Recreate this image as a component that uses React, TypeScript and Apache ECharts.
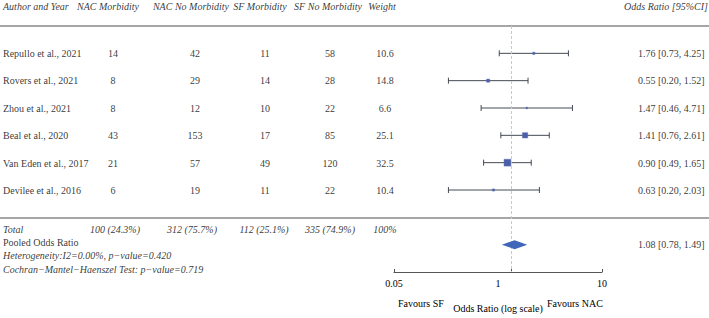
import React, { useEffect, useRef } from "react";
import * as echarts from "echarts";

// ---------- data ----------
const authors = [
  "Repullo et al., 2021",
  "Rovers et al., 2021",
  "Zhou et al., 2021",
  "Beal et al., 2020",
  "Van Eden et al., 2017",
  "Devilee et al., 2016",
];
const nacMorbidity = [14, 8, 8, 43, 21, 6];
const nacNoMorbidity = [42, 29, 12, 153, 57, 19];
const sfMorbidity = [11, 14, 10, 17, 49, 11];
const sfNoMorbidity = [58, 28, 22, 85, 120, 22];
const weights = [10.6, 14.8, 6.6, 25.1, 32.5, 10.4];
const oddsRatio = [1.76, 0.55, 1.47, 1.41, 0.9, 0.63];
const ciLow = [0.73, 0.2, 0.46, 0.76, 0.49, 0.2];
const ciHigh = [4.25, 1.52, 4.71, 2.61, 1.65, 2.03];

const pooledOR = 1.08;
const pooledLow = 0.78;
const pooledHigh = 1.49;

const headers = [
  "Author and Year",
  "NAC Morbidity",
  "NAC No Morbidity",
  "SF Morbidity",
  "SF No Morbidity",
  "Weight",
  "Odds Ratio [95%CI]",
];
const totals = ["Total", "100 (24.3%)", "312 (75.7%)", "112 (25.1%)", "335 (74.9%)", "100%"];
const pooledLabel = "Pooled Odds Ratio";
const heterogeneityText = "Heterogeneity:I2=0.00%, p\u2212value=0.420";
const cmhText = "Cochran\u2212Mantel\u2212Haenszel Test: p\u2212value=0.719";

const xTickValues = [0.05, 1, 10];
const xTickLabels = ["0.05", "1", "10"];
const xAxisName = "Odds Ratio (log scale)";
const favourLeft = "Favours SF";
const favourRight = "Favours NAC";

// ---------- layout ----------
const FONT = "Liberation Serif";
const TEXT_COLOR = "#000";
const COL_CENTER = [113, 195, 265, 330, 385];
const HEADER_CENTER = [108, 191, 260, 328, 382];
const TOTAL_CENTER = [115, 192, 264, 330, 385];
const LEFT_X = 3;
const OR_TEXT_X = 638;
const RIGHT_X = 708;
const HEADER_ROW = -0.7;
const TOTAL_ROW = 7.4;
const POOLED_ROW = 7.95;
const HET_ROW = 8.36;
const CMH_ROW = 8.87;

type Align = "left" | "center" | "right";

function textItem(x: number, y: number, text: string, align: Align, italic = false) {
  const position = align === "left" ? "right" : align === "right" ? "left" : "inside";
  return {
    value: [x, y, text],
    label: {
      show: true,
      position,
      distance: 0,
      formatter: text,
      fontFamily: FONT,
      fontSize: 10,
      fontStyle: italic ? "italic" : "normal",
      color: TEXT_COLOR,
    },
  };
}

function buildTableItems() {
  const items: any[] = [];
  items.push(textItem(LEFT_X, HEADER_ROW, headers[0], "left", true));
  for (let c = 0; c < 5; c++) {
    items.push(textItem(HEADER_CENTER[c], HEADER_ROW, headers[c + 1], "center", true));
  }
  items.push(textItem(RIGHT_X, HEADER_ROW, headers[6], "right", true));

  authors.forEach((a, i) => {
    const row = i + 1;
    items.push(textItem(LEFT_X, row, a, "left"));
    const vals = [nacMorbidity[i], nacNoMorbidity[i], sfMorbidity[i], sfNoMorbidity[i], weights[i].toFixed(1)];
    vals.forEach((v, c) => items.push(textItem(COL_CENTER[c], row, String(v), "center")));
    items.push(
      textItem(
        OR_TEXT_X,
        row,
        `${oddsRatio[i].toFixed(2)} [${ciLow[i].toFixed(2)}, ${ciHigh[i].toFixed(2)}]`,
        "left"
      )
    );
  });

  items.push(textItem(LEFT_X, TOTAL_ROW, totals[0], "left", true));
  for (let c = 1; c < totals.length; c++) {
    items.push(textItem(TOTAL_CENTER[c - 1], TOTAL_ROW, totals[c], "center", true));
  }
  items.push(textItem(LEFT_X, POOLED_ROW - 0.05, pooledLabel, "left"));
  items.push(
    textItem(
      OR_TEXT_X,
      POOLED_ROW,
      `${pooledOR.toFixed(2)} [${pooledLow.toFixed(2)}, ${pooledHigh.toFixed(2)}]`,
      "left"
    )
  );
  items.push(textItem(LEFT_X, HET_ROW, heterogeneityText, "left", true));
  items.push(textItem(LEFT_X, CMH_ROW, cmhText, "left", true));
  return items;
}

export default function App() {
  const ref = useRef<HTMLDivElement>(null);

  useEffect(() => {
    if (!ref.current) return;
    const chart = echarts.init(ref.current, undefined, { renderer: "svg" });
    const xMin = Math.log10(xTickValues[0]);
    const xMax = Math.log10(xTickValues[xTickValues.length - 1]);
    const tickLogs = xTickValues.map((v) => Math.log10(v));
    // labels are spread evenly along the axis, as in the reference
    const labelPos = xTickLabels.map((_, i) => xMin + ((xMax - xMin) * i) / (xTickLabels.length - 1));

    const ciData = authors.map((_, i) => [
      Math.log10(ciLow[i]),
      Math.log10(ciHigh[i]),
      Math.log10(oddsRatio[i]),
      i + 1,
      weights[i],
    ]);

    chart.setOption({
      animation: false,
      textStyle: { fontFamily: FONT },
      grid: [
        { left: 394, right: 107, top: 26, bottom: 45 },
        { left: 0, right: 0, top: 26, bottom: 45 },
      ],
      xAxis: [
        {
          type: "value",
          gridIndex: 0,
          min: xMin,
          max: xMax,
          position: "bottom",
          splitLine: { show: false },
          axisLine: { show: true, onZero: false, lineStyle: { color: "#555", width: 1 } },
          axisTick: {
            show: true,
            inside: true,
            length: 3,
            customValues: tickLogs,
            lineStyle: { color: "#555" },
          },
          axisLabel: {
            customValues: labelPos,
            margin: 6,
            fontFamily: FONT,
            fontSize: 10,
            color: TEXT_COLOR,
            formatter: (v: number) => {
              let best = 0;
              labelPos.forEach((p, i) => {
                if (Math.abs(p - v) < Math.abs(labelPos[best] - v)) best = i;
              });
              return xTickLabels[best];
            },
          },
          name: xAxisName,
          nameLocation: "middle",
          nameGap: 31,
          nameTextStyle: { fontFamily: FONT, fontSize: 10, color: TEXT_COLOR },
        },
        { type: "value", gridIndex: 1, min: 0, max: 709, show: false },
      ],
      yAxis: [
        { type: "value", gridIndex: 0, min: 0, max: 9, inverse: true, show: false },
        { type: "value", gridIndex: 1, min: 0, max: 9, inverse: true, show: false },
      ],
      graphic: [
        {
          type: "text",
          left: 398,
          top: 298,
          style: { text: favourLeft, fontFamily: FONT, fontSize: 10, fill: TEXT_COLOR },
        },
        {
          type: "text",
          left: 547,
          top: 298,
          style: { text: favourRight, fontFamily: FONT, fontSize: 10, fill: TEXT_COLOR },
        },
      ],
      series: [
        {
          type: "scatter",
          xAxisIndex: 1,
          yAxisIndex: 1,
          symbolSize: 0,
          clip: false,
          silent: true,
          data: buildTableItems(),
          markLine: {
            silent: true,
            symbol: "none",
            label: { show: false },
            lineStyle: { color: "#888", width: 1.5, type: "solid" },
            data: [{ yAxis: 0 }, { yAxis: 7 }],
          },
        },
        {
          type: "custom",
          xAxisIndex: 0,
          yAxisIndex: 0,
          silent: true,
          data: ciData,
          encode: { x: [0, 1, 2], y: 3 },
          renderItem: (params: any, api: any) => {
            const y = api.value(3);
            const pLo = api.coord([api.value(0), y]);
            const pHi = api.coord([api.value(1), y]);
            const pEst = api.coord([api.value(2), y]);
            const s = Math.max(1.6, api.value(4) * 0.21);
            const stroke = { stroke: "#454a55", lineWidth: 1 };
            return {
              type: "group",
              children: [
                { type: "line", shape: { x1: pLo[0], y1: pLo[1], x2: pHi[0], y2: pHi[1] }, style: stroke },
                { type: "line", shape: { x1: pLo[0], y1: pLo[1] - 3, x2: pLo[0], y2: pLo[1] + 3 }, style: stroke },
                { type: "line", shape: { x1: pHi[0], y1: pHi[1] - 3, x2: pHi[0], y2: pHi[1] + 3 }, style: stroke },
                {
                  type: "rect",
                  shape: { x: pEst[0] - s / 2, y: pEst[1] - s / 2, width: s, height: s },
                  style: { fill: "#4a5fa8", stroke: "#5a6fb8", lineWidth: 0.5 },
                },
              ],
            };
          },
          markLine: {
            silent: true,
            symbol: "none",
            label: { show: false },
            lineStyle: { color: "#c8c8c8", width: 1, type: [3, 2] },
            data: [{ xAxis: 0 }],
          },
        },
        {
          type: "custom",
          xAxisIndex: 0,
          yAxisIndex: 0,
          z: 10,
          silent: true,
          data: [[Math.log10(pooledLow), Math.log10(pooledHigh), Math.log10(pooledOR), 8]],
          encode: { x: [0, 1, 2], y: 3 },
          renderItem: (params: any, api: any) => {
            const y = api.value(3);
            const pLo = api.coord([api.value(0), y]);
            const pHi = api.coord([api.value(1), y]);
            const pEst = api.coord([api.value(2), y]);
            const h = 4.5;
            return {
              type: "polygon",
              shape: {
                points: [
                  [pLo[0], pLo[1]],
                  [pEst[0], pEst[1] - h],
                  [pHi[0], pHi[1]],
                  [pEst[0], pEst[1] + h],
                ],
              },
              style: { fill: "#3f66b8" },
            };
          },
        },
      ],
    });
    return () => chart.dispose();
  }, []);

  return (
    <div
      ref={ref}
      style={{ position: "absolute", left: 0, top: 0, width: 709, height: 318, background: "#fff" }}
    />
  );
}
